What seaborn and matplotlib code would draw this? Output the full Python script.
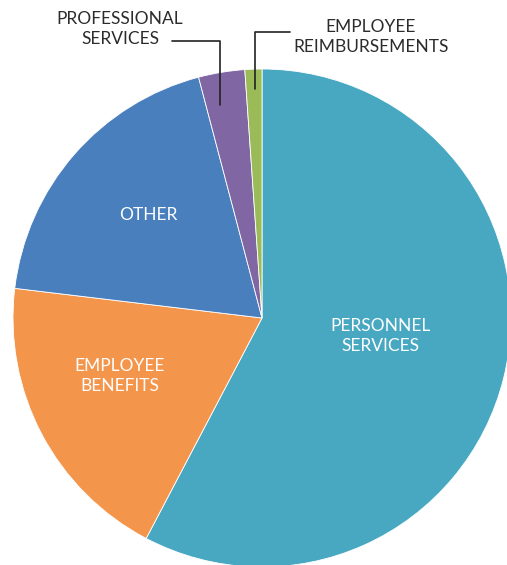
import matplotlib
matplotlib.use("Agg")
import matplotlib.pyplot as plt
import seaborn as sns

categories = ["PERSONNEL\nSERVICES", "EMPLOYEE\nBENEFITS", "OTHER",
              "PROFESSIONAL\nSERVICES", "EMPLOYEE\nREIMBURSEMENTS"]
shares = [57.7, 19.2, 19.0, 3.0, 1.1]
colors = ["#48A8C2", "#F4954C", "#4A7FBE", "#8066A3", "#9BBB59"]

sns.set_theme(style="white")
plt.rcParams["font.family"] = ["Lato", "DejaVu Sans"]

W, H = 507, 565
fig = plt.figure(figsize=(W / 100, H / 100), dpi=100)
ax = fig.add_axes([0, 0, 1, 1])
ax.set_xlim(0, W)
ax.set_ylim(0, H)
ax.axis("off")

cx, cy, r = 262, H - 318, 249
ax.pie(shares, colors=colors, startangle=90, counterclock=False,
       center=(cx, cy), radius=r, frame=True,
       wedgeprops=dict(edgecolor="white", linewidth=0.6))
ax.set_xlim(0, W)
ax.set_ylim(0, H)
ax.axis("off")

inner = dict(color="white", fontsize=12.5, ha="center", va="center",
             linespacing=1.25)
ax.text(380, H - 336, categories[0], **inner)
ax.text(120, H - 376, categories[1], **inner)
ax.text(148, H - 215, categories[2], **inner)

outer = dict(color="#2b2b2b", fontsize=12.5, ha="center", va="center",
             linespacing=1.25)
ax.text(120, H - 29, categories[3], **outer)
ax.text(371, H - 37, categories[4], **outer)

# leader lines from the outside labels to the thin slices
ax.plot([172, 220, 220], [H - 41, H - 41, H - 105], color="#222222", lw=1.2)
ax.plot([290, 255, 255], [H - 32, H - 32, H - 89], color="#222222", lw=1.2)

fig.savefig("out.png", dpi=100)
